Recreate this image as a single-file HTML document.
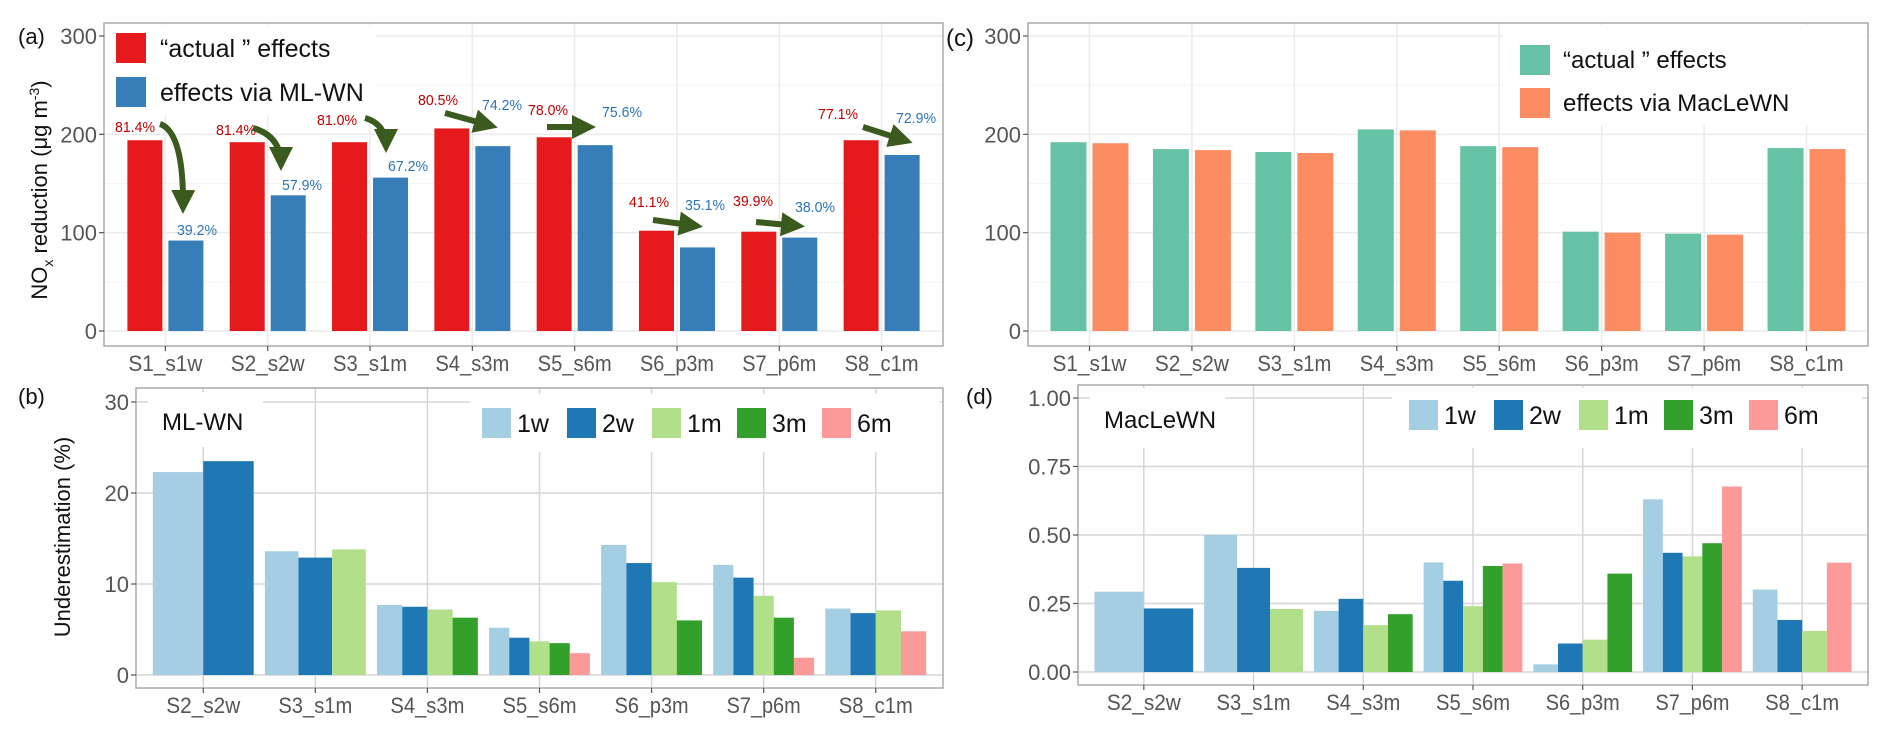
<!DOCTYPE html>
<html><head><meta charset="utf-8"><style>
html,body{margin:0;padding:0;background:#fff}
svg{display:block}
text{font-family:"Liberation Sans",sans-serif}
</style></head><body>
<svg id="fig" width="1892" height="745" viewBox="0 0 1892 745" xmlns="http://www.w3.org/2000/svg">
<defs><marker id="ah" markerWidth="4" markerHeight="4" refX="3" refY="2" orient="auto" markerUnits="strokeWidth"><path d="M0,0 L4,2 L0,4 z" fill="#3b5a1e"/></marker></defs>
</svg>
<script>
const catsA = ["S1_s1w","S2_s2w","S3_s1m","S4_s3m","S5_s6m","S6_p3m","S7_p6m","S8_c1m"];
const actualA = [194,192,192,206,197,102,101,194];
const mlwnA = [92,138,156,188,189,85,95,179];
const pctActual = ["81.4%","81.4%","81.0%","80.5%","78.0%","41.1%","39.9%","77.1%"];
const pctML = ["39.2%","57.9%","67.2%","74.2%","75.6%","35.1%","38.0%","72.9%"];
const actualC = [192,185,182,205,188,101,99,186];
const maclewnC = [191,184,181,204,187,100,98,185];
const catsB = ["S2_s2w","S3_s1m","S4_s3m","S5_s6m","S6_p3m","S7_p6m","S8_c1m"];
const seriesNames = ["1w","2w","1m","3m","6m"];
const b1w = [22.3,13.6,7.7,5.2,14.3,12.1,7.3];
const b2w = [23.5,12.9,7.5,4.1,12.3,10.7,6.8];
const b1m = [null,13.8,7.2,3.7,10.2,8.7,7.1];
const b3m = [null,null,6.3,3.5,6.0,6.3,null];
const b6m = [null,null,null,2.4,null,1.9,4.8];
const d1w = [0.293,0.5,0.223,0.4,0.028,0.63,0.301];
const d2w = [0.232,0.38,0.267,0.333,0.104,0.435,0.19];
const d1m = [null,0.23,0.171,0.24,0.118,0.422,0.15];
const d3m = [null,null,0.211,0.387,0.359,0.47,null];
const d6m = [null,null,null,0.396,null,0.677,0.399];
const ticksA = [0,100,200,300];
const ticksB = [0,10,20,30];
const ticksD = ["0.00","0.25","0.50","0.75","1.00"];

const svg = document.getElementById('fig');
const NS = "http://www.w3.org/2000/svg";
function mk(tag, attrs, parent){const e=document.createElementNS(NS,tag);for(const k in attrs)e.setAttribute(k,attrs[k]);(parent||svg).appendChild(e);return e;}
function txt(s, attrs){const e=mk('text',attrs);e.textContent=s;return e;}
const PAL = ["#a6cee3","#1f78b4","#b2df8a","#33a02c","#fb9a99"];

function panel(o){
  const n=o.cats.length, step=(o.right-o.left)/(n+0.2);
  const xc=i=>o.left+step*(0.6+i);
  const ys=v=>o.zeroPx-v*(o.zeroPx-o.topPx)/o.topVal;
  const g=mk('g',{});
  
  
  if(o.minor){o.minor.forEach(v=>mk('line',{x1:o.left,x2:o.right,y1:ys(v),y2:ys(v),stroke:o.minorCol,'stroke-width':1},g));}
  o.ticks.forEach(v=>mk('line',{x1:o.left,x2:o.right,y1:ys(+v),y2:ys(+v),stroke:o.gridCol,'stroke-width':o.gridW},g));
  o.cats.forEach((c,i)=>mk('line',{x1:xc(i),x2:xc(i),y1:o.top,y2:o.bottom,stroke:o.gridCol,'stroke-width':o.gridW},g));
  mk('rect',{x:o.left,y:o.top,width:o.right-o.left,height:o.bottom-o.top,fill:'none',stroke:'#aaa','stroke-width':1.5});
  o.ticks.forEach(v=>{
    mk('line',{x1:o.left-5,x2:o.left,y1:ys(+v),y2:ys(+v),stroke:'#555','stroke-width':1.2});
    const t=txt(String(v),{x:o.left-7,y:ys(+v)+8,'font-size':22,fill:'#555','text-anchor':'end'});
    
    
  });
  o.cats.forEach((c,i)=>{
    mk('line',{x1:xc(i),x2:xc(i),y1:o.bottom,y2:o.bottom+5,stroke:'#555','stroke-width':1.2});
    const t=txt(c,{x:xc(i),y:o.bottom+25,'font-size':22,fill:'#555','text-anchor':'middle',textLength:c.length>6?80:74,lengthAdjust:'spacingAndGlyphs'});
    
    
  });
  return {xc,ys,step};
}

// ---------- Panel a ----------
const A=panel({name:'panel-a',left:104,right:943,top:23,bottom:346,cats:catsA,zeroPx:331,topPx:36,topVal:300,ticks:ticksA,minor:[50,150,250],gridCol:'#ebebeb',minorCol:'#f4f4f4',gridW:1.5});
mk('rect',{x:106,y:25,width:270,height:90,fill:'#fff'});
actualA.forEach((v,i)=>{
  const r=mk('rect',{x:A.xc(i)-38,y:A.ys(v),width:35,height:A.ys(0)-A.ys(v),fill:'#e41a1c'});
  
  
});
mlwnA.forEach((v,i)=>{
  const r=mk('rect',{x:A.xc(i)+3,y:A.ys(v),width:35,height:A.ys(0)-A.ys(v),fill:'#377eb8'});
  
  
});
const redLbl=[[135,132],[236,135],[337,125],[438,105],[548,115],[649,207],[753,206],[838,119]];
const blueLbl=[[197,235],[302,190],[408,171],[502,110],[622,117],[705,210],[815,212],[916,123]];
pctActual.forEach((s,i)=>{
  const t=txt(s,{x:redLbl[i][0],y:redLbl[i][1],'font-size':15,fill:'#c00000','text-anchor':'middle',textLength:40,lengthAdjust:'spacingAndGlyphs'});
  
  
});
pctML.forEach((s,i)=>{
  const t=txt(s,{x:blueLbl[i][0],y:blueLbl[i][1],'font-size':15,fill:'#2e75b6','text-anchor':'middle',textLength:40,lengthAdjust:'spacingAndGlyphs'});
  
  
});
const arrows=[
 'M160,124 Q184,132 183,208','M253,128 Q281,136 281,165','M365,118 Q386,124 386,147',
 'M445,113 L492,126','M547,127 L590,127','M653,220 L697,226','M756,222 L799,226','M863,127 L907,141'];
arrows.forEach(d=>{
  const p=mk('path',{d:d,fill:'none',stroke:'#3b5a1e','stroke-width':6,'marker-end':'url(#ah)'});
  
  
});
[['#e41a1c','\u201cactual \u201d effects',33],['#377eb8','effects via ML-WN',77]].forEach(l=>{
  const r=mk('rect',{x:116,y:l[2],width:30,height:30,fill:l[0]});
  
  
  const t=txt(l[1],{x:160,y:l[2]+24,'font-size':25,fill:'#111'});
  
  
});
txt('(a)',{x:18,y:44,'font-size':22,fill:'#111'});
const ya=mk('text',{transform:'translate(47,190) rotate(-90)','font-size':22,fill:'#111','text-anchor':'middle'});


ya.innerHTML='NO<tspan font-size="14" dy="6">x</tspan><tspan dy="-6"> reduction (\u03bcg m</tspan><tspan font-size="14" dy="-8">-3</tspan><tspan dy="8">)</tspan>';

// ---------- Panel c ----------
const C=panel({name:'panel-c',left:1028,right:1868,top:23,bottom:346,cats:catsA,zeroPx:331,topPx:36,topVal:300,ticks:ticksA,minor:[50,150,250],gridCol:'#ebebeb',minorCol:'#f4f4f4',gridW:1.5});
mk('rect',{x:1503,y:25,width:363,height:100,fill:'#fff'});
actualC.forEach((v,i)=>{
  const r=mk('rect',{x:C.xc(i)-39,y:C.ys(v),width:36,height:C.ys(0)-C.ys(v),fill:'#66c2a5'});
  
  
});
maclewnC.forEach((v,i)=>{
  const r=mk('rect',{x:C.xc(i)+3,y:C.ys(v),width:36,height:C.ys(0)-C.ys(v),fill:'#fc8d62'});
  
  
});
[['#66c2a5','\u201cactual \u201d effects',45],['#fc8d62',' effects via MacLeWN',88]].forEach(l=>{
  const r=mk('rect',{x:1520,y:l[2],width:30,height:30,fill:l[0]});
  
  
  const t=txt(l[1],{x:1563,y:l[2]+23,'font-size':24,fill:'#111'});
  
  
});
txt('(c)',{x:946,y:46,'font-size':24,fill:'#111'});

// ---------- Panel b & d ----------
function grouped(P,series,name){
  const n=series[0].length;
  for(let i=0;i<n;i++){
    const present=[];series.forEach((s,k)=>{if(s[i]!==null)present.push(k);});
    const w=P.step*0.9/present.length;
    present.forEach((k,j)=>{
      const v=series[k][i];
      const x=P.xc(i)-P.step*0.45+j*w;
      const r=mk('rect',{x:x,y:P.ys(v),width:w,height:P.ys(0)-P.ys(v),fill:PAL[k]});
      
      
    });
  }
}
function legend5(x0,y0,dx){
  seriesNames.forEach((s,k)=>{
    const r=mk('rect',{x:x0+k*dx,y:y0,width:29,height:30,fill:PAL[k]});
    
    
    const t=txt(s,{x:x0+k*dx+35,y:y0+24,'font-size':25,fill:'#111'});
    
    
  });
}
const B=panel({name:'panel-b',left:136,right:943,top:388,bottom:688,cats:catsB,zeroPx:675,topPx:402,topVal:30,ticks:ticksB,gridCol:'#d6d6d6',gridW:1.5});
mk('rect',{x:148,y:392,width:115,height:55,fill:'#fff'});
mk('rect',{x:470,y:394,width:470,height:58,fill:'#fff'});
grouped(B,[b1w,b2w,b1m,b3m,b6m],'b');
legend5(482,408,85);
txt('ML-WN',{x:162,y:430,'font-size':24,fill:'#111'});
txt('(b)',{x:18,y:404,'font-size':22,fill:'#111'});
const yb=txt('Underestimation (%)',{transform:'translate(70,537) rotate(-90)','font-size':22,fill:'#111','text-anchor':'middle'});



const D=panel({name:'panel-d',left:1078,right:1868,top:385,bottom:685,cats:catsB,zeroPx:672,topPx:398,topVal:1,ticks:ticksD,gridCol:'#d6d6d6',gridW:1.5});
mk('rect',{x:1090,y:388,width:135,height:60,fill:'#fff'});
mk('rect',{x:1392,y:388,width:470,height:60,fill:'#fff'});
grouped(D,[d1w,d2w,d1m,d3m,d6m],'d');
legend5(1409,400,85);
txt('MacLeWN',{x:1104,y:428,'font-size':24,fill:'#111'});
txt('(d)',{x:966,y:404,'font-size':22,fill:'#111'});
</script>
</body></html>
